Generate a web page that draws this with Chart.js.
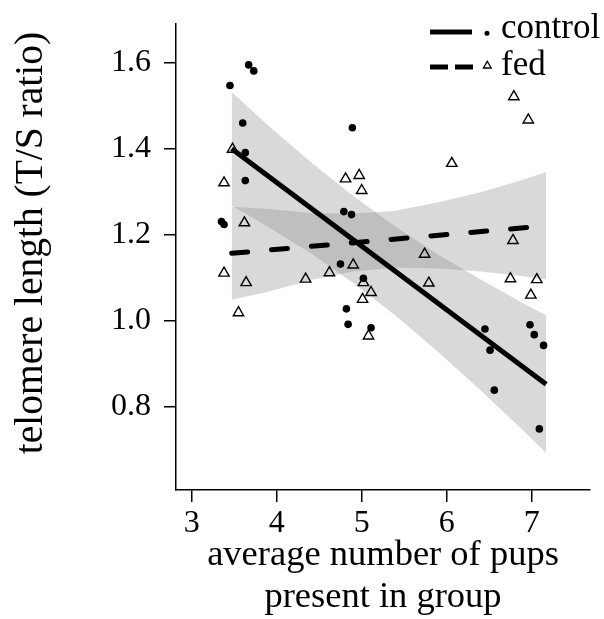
<!DOCTYPE html>
<html>
<head>
<meta charset="utf-8">
<script src="https://cdn.jsdelivr.net/npm/chart.js@4.4.0/dist/chart.umd.min.js"></script>
<style>
  html, body { margin: 0; padding: 0; background: #fff; }
  #wrap { width: 604px; height: 619px; }
</style>
</head>
<body>
<div id="wrap"><canvas id="chart" width="604" height="619"></canvas></div>
<script>
// control group (filled dots)
const controlX = [3.67, 3.73, 3.45, 3.60, 4.89, 3.63, 3.63, 3.35, 3.38, 4.79, 4.88, 4.75,
  5.02, 4.82, 4.84, 5.11, 6.45, 6.51, 6.56, 6.98, 7.03, 7.14, 7.09, 4.90]
const controlY = [1.595, 1.581, 1.547, 1.460, 1.449, 1.391, 1.326, 1.231, 1.224, 1.254, 1.247, 1.132,
  1.099, 1.028, 0.992, 0.984, 0.981, 0.932, 0.839, 0.991, 0.968, 0.943, 0.749, 1.184]

// fed group (open triangles)
const fedX = [3.48, 3.38, 3.62, 4.81, 4.97, 5.00, 3.38, 3.64, 3.55, 4.34, 4.62, 4.90, 5.02,
  5.11, 5.01, 5.08, 6.79, 6.96, 6.06, 6.78, 5.74, 5.79, 6.75, 7.06, 6.99]
const fedY = [1.399, 1.321, 1.228, 1.330, 1.338, 1.303, 1.111, 1.089, 1.019, 1.097, 1.112, 1.130, 1.089,
  1.066, 1.050, 0.965, 1.521, 1.467, 1.366, 1.187, 1.155, 1.088, 1.098, 1.096, 1.060]

// fitted lines
const fitX = [3.47, 7.17]
const controlFit = [1.400, 0.853]
const fedFit = [1.157, 1.221]

// confidence bands
const bandX = [3.47, 3.9, 4.4, 4.9, 5.4, 5.9, 6.4, 6.9, 7.17]
const controlUpper = [1.532, 1.454, 1.369, 1.290, 1.219, 1.154, 1.096, 1.041, 1.013]
const controlLower = [1.268, 1.218, 1.157, 1.088, 1.012, 0.928, 0.838, 0.745, 0.693]
const fedUpper = [1.265, 1.260, 1.251, 1.249, 1.256, 1.276, 1.299, 1.328, 1.346]
const fedLower = [1.049, 1.068, 1.095, 1.115, 1.124, 1.122, 1.115, 1.104, 1.096]

const xTicks = [3, 4, 5, 6, 7]
const yTicks = [0.8, 1.0, 1.2, 1.4, 1.6]
const legendLabels = ['control', 'fed']
const xTitle = ['average number of pups', 'present in group']
const yTitle = 'telomere length (T/S ratio)'

const serif = "'Liberation Serif', 'Times New Roman', serif"
const bandColor = 'rgba(128,128,128,0.3)'
const none = 'rgba(0,0,0,0)'

const pts = (xs, ys) => xs.map((x, i) => ({ x: x, y: ys[i] }))

// legend + y title, drawn by hand
const extras = {
  id: 'extras',
  afterDraw(chart) {
    const ctx = chart.ctx
    ctx.save()
    ctx.strokeStyle = '#000'
    ctx.fillStyle = '#000'
    ctx.lineWidth = 5
    ctx.beginPath(); ctx.moveTo(430, 32); ctx.lineTo(472, 32); ctx.stroke()
    ctx.setLineDash([18, 7])
    ctx.beginPath(); ctx.moveTo(430, 67); ctx.lineTo(473, 67); ctx.stroke()
    ctx.setLineDash([])
    ctx.beginPath(); ctx.arc(487, 33.3, 2.5, 0, Math.PI * 2); ctx.fill()
    ctx.lineWidth = 1.3
    ctx.beginPath(); ctx.moveTo(487.3, 61.3); ctx.lineTo(491.2, 68); ctx.lineTo(483.4, 68); ctx.closePath(); ctx.stroke()

    ctx.font = '35px ' + serif
    ctx.textBaseline = 'alphabetic'
    ctx.fillText(legendLabels[0], 501, 37.5)
    ctx.fillText(legendLabels[1], 501, 75)

    ctx.translate(32, 243)
    ctx.rotate(-Math.PI / 2)
    ctx.textAlign = 'center'
    ctx.textBaseline = 'middle'
    ctx.font = '39.5px ' + serif
    ctx.fillText(yTitle, 0, 0)
    ctx.restore()
  }
}

new Chart(document.getElementById('chart'), {
  type: 'line',
  data: {
    datasets: [
      { label: 'control upper', data: pts(bandX, controlUpper), fill: '+1', backgroundColor: bandColor,
        borderColor: none, pointRadius: 0, order: 5 },
      { label: 'control lower', data: pts(bandX, controlLower), fill: false,
        borderColor: none, pointRadius: 0, order: 5 },
      { label: 'fed upper', data: pts(bandX, fedUpper), fill: '+1', backgroundColor: bandColor,
        borderColor: none, pointRadius: 0, order: 4 },
      { label: 'fed lower', data: pts(bandX, fedLower), fill: false,
        borderColor: none, pointRadius: 0, order: 4 },
      { label: 'control', data: pts(controlX, controlY), showLine: false, pointStyle: 'circle',
        pointRadius: 3.8, pointBackgroundColor: '#000', pointBorderWidth: 0, pointBorderColor: none, order: 3 },
      { label: 'fed', data: pts(fedX, fedY), showLine: false, pointStyle: 'triangle',
        pointRadius: 6, pointBackgroundColor: none, pointBorderColor: '#000', pointBorderWidth: 1.4, order: 3 },
      { label: 'control fit', data: pts(fitX, controlFit), borderColor: '#000', borderWidth: 5,
        pointRadius: 0, fill: false, order: 1 },
      { label: 'fed fit', data: pts(fitX, fedFit), borderColor: '#000', borderWidth: 5,
        borderDash: [16, 24], borderCapStyle: 'round', pointRadius: 0, fill: false, order: 1 }
    ]
  },
  options: {
    responsive: false,
    animation: false,
    layout: { padding: { top: 24, right: 14, left: 0, bottom: 0 } },
    plugins: { legend: { display: false }, tooltip: { enabled: false } },
    scales: {
      x: {
        type: 'linear', min: 2.815, max: 7.686,
        afterBuildTicks: s => { s.ticks = xTicks.map(v => ({ value: v })) },
        afterFit: s => { s.height = 129; s.paddingLeft = 0; s.paddingRight = 0 },
        grid: { drawOnChartArea: false, drawTicks: true, tickLength: 12, color: '#000', lineWidth: 1.5 },
        border: { display: true, color: '#000', width: 1.5 },
        ticks: { color: '#000', font: { family: serif, size: 32 }, padding: 2, maxRotation: 0,
          autoSkip: false, callback: v => String(v) },
        title: { display: true, text: xTitle, color: '#000',
          font: { family: serif, size: 36.5, lineHeight: 1.16 }, padding: { top: 0, bottom: 0 } }
      },
      y: {
        min: 0.607, max: 1.69,
        afterBuildTicks: s => { s.ticks = yTicks.map(v => ({ value: v })) },
        afterFit: s => { s.width = 176; s.paddingTop = 0; s.paddingBottom = 0 },
        grid: { drawOnChartArea: false, drawTicks: true, tickLength: 12, color: '#000', lineWidth: 1.5 },
        border: { display: true, color: '#000', width: 1.5 },
        ticks: { color: '#000', font: { family: serif, size: 32 }, padding: 13,
          autoSkip: false, callback: v => v.toFixed(1) }
      }
    }
  },
  plugins: [extras]
})
</script>
</body>
</html>
